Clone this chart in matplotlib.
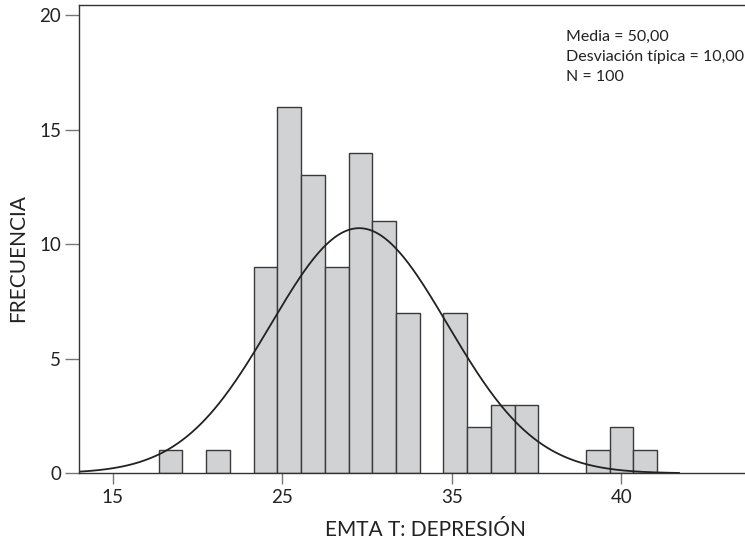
import numpy as np
import matplotlib
matplotlib.use("Agg")
import matplotlib.pyplot as plt

# ---- data ----
bin_start = 17.7
bin_width = 1.4
counts = [1, 0, 1, 0, 9, 16, 13, 9, 14, 11, 7, 0, 7, 2, 3, 3, 0, 0, 1, 2, 1]
fit_mean = 29.53
fit_sd = 5.22
n_total = 100
curve_from, curve_to = 13.0, 48.4
xticks = [15, 25, 35, 45]
xticklabels = ["15", "25", "35", "40"]
yticks = [0, 5, 10, 15, 20]
stats_lines = ["Media = 50,00", "Desviación típica = 10,00", "N = 100"]
xlabel = "EMTA T: DEPRESIÓN"
ylabel = "FRECUENCIA"

plt.rcParams["font.family"] = ["Lato", "DejaVu Sans"]

W, H = 745, 549
fig = plt.figure(figsize=(W / 100, H / 100), dpi=100)
ax = fig.add_axes([79 / W, (H - 473.3) / H, (W - 79) / W, (473.3 - 5) / H])

edges = bin_start + bin_width * np.arange(len(counts))
for left, c in zip(edges, counts):
    if c > 0:
        ax.bar(left, c, width=bin_width, align="edge", color="#d1d2d4",
               edgecolor="#3a3a3a", linewidth=1.0, zorder=2)

xs = np.linspace(curve_from, curve_to, 400)
ys = n_total * bin_width / (fit_sd * np.sqrt(2 * np.pi)) * np.exp(-0.5 * ((xs - fit_mean) / fit_sd) ** 2)
ax.plot(xs, ys, color="#222222", linewidth=1.3, zorder=3)

ax.set_xlim(13.0, 13.0 + 666 / 16.95)
ax.set_ylim(0, 20.44)
ax.set_xticks(xticks)
ax.set_xticklabels(xticklabels)
ax.set_yticks(yticks)
ax.tick_params(axis="both", labelsize=13.5, colors="#777777", labelcolor="#222222",
               width=1.0)
ax.tick_params(axis="x", length=8, pad=3)
ax.tick_params(axis="y", length=10, pad=3)

for s in ["left", "bottom", "top"]:
    ax.spines[s].set_color("#333333")
    ax.spines[s].set_linewidth(1.0)
ax.spines["right"].set_visible(False)
ax.spines["left"].set_zorder(5)

fig.text(425 / W, 1 - 530 / H, xlabel, ha="center", va="center", fontsize=15, color="#222222")
fig.text(18 / W, 1 - 258 / H, ylabel, ha="center", va="center", rotation=90, fontsize=15, color="#222222")

for i, line in enumerate(stats_lines):
    fig.text(566 / W, 1 - (37 + 20 * i) / H, line, ha="left", va="center", fontsize=11.5, color="#222222")

fig.savefig("out.png", dpi=100)
